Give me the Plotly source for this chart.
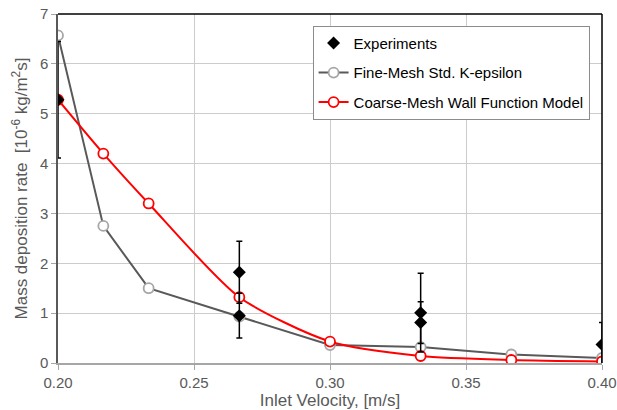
import plotly.graph_objects as go

# Inlet velocities [m/s] of the simulated cases
velocity = [0.2, 0.21667, 0.23333, 0.26667, 0.3, 0.33333, 0.36667, 0.4]

# Fine mesh, standard k-epsilon model [1e-6 kg/m2s]
fine_mesh = [6.57, 2.75, 1.50, 0.93, 0.36, 0.32, 0.17, 0.10]

# Coarse mesh, wall function model [1e-6 kg/m2s]
coarse_mesh = [5.28, 4.20, 3.20, 1.32, 0.43, 0.14, 0.06, 0.03]

# Measurements with their uncertainty
exp_velocity = [0.2, 0.26667, 0.26667, 0.33333, 0.33333, 0.4]
exp_rate = [5.28, 1.82, 0.95, 1.01, 0.81, 0.37]
exp_error = [1.17, 0.62, 0.45, 0.79, 0.42, 0.44]

x_ticks = [0.20, 0.25, 0.30, 0.35, 0.40]
y_ticks = [0, 1, 2, 3, 4, 5, 6, 7]

AXIS_GRAY = "#595959"
GRID_GRAY = "#cccccc"
FONT = "Liberation Sans, Arial, sans-serif"

fig = go.Figure()

fig.add_trace(go.Scatter(
    x=velocity, y=fine_mesh, mode="lines+markers",
    name="Fine-Mesh Std. K-epsilon", legendgroup="b", legendrank=2,
    line=dict(color="#595959", width=2),
    marker=dict(symbol="circle", size=10, color="white",
                line=dict(color="#a6a6a6", width=1.8)),
))

fig.add_trace(go.Scatter(
    x=velocity, y=coarse_mesh, mode="lines+markers",
    name="Coarse-Mesh Wall Function Model", legendgroup="c", legendrank=3,
    line=dict(color="#ff0000", width=2, shape="spline", smoothing=0.7),
    marker=dict(symbol="circle", size=10, color="white",
                line=dict(color="#ff0000", width=1.8)),
))

fig.add_trace(go.Scatter(
    x=exp_velocity, y=exp_rate, mode="markers",
    name="Experiments", legendgroup="a", legendrank=1,
    marker=dict(symbol="diamond", size=10, color="black"),
    error_y=dict(type="data", array=exp_error, visible=True,
                 color="black", thickness=1.5, width=3),
))

fig.update_layout(
    width=617, height=410,
    margin=dict(l=58, r=15, t=14, b=47),
    paper_bgcolor="white", plot_bgcolor="white",
    font=dict(family=FONT, color=AXIS_GRAY, size=15),
    showlegend=True,
    legend=dict(
        x=0.468, y=0.966, xanchor="left", yanchor="top",
        bgcolor="white", bordercolor="#8c8c8c", borderwidth=1,
        font=dict(family=FONT, color="black", size=15),
        traceorder="grouped", tracegroupgap=7,
        itemwidth=30,
    ),
    shapes=[
        dict(type="line", xref="paper", yref="paper", x0=0, x1=1, y0=1, y1=1,
             line=dict(color="black", width=1.5)),
        dict(type="line", xref="paper", yref="paper", x0=1, x1=1, y0=0, y1=1,
             line=dict(color="black", width=1.5)),
    ],
)

fig.update_xaxes(
    range=[0.2, 0.4], tickvals=x_ticks, ticktext=[f"{v:.2f}" for v in x_ticks],
    automargin=False,
    showgrid=True, gridcolor=GRID_GRAY, gridwidth=1.2,
    showline=True, linecolor="#a6a6a6", linewidth=1.5,
    ticks="outside", ticklen=5, tickcolor="#a6a6a6",
    zeroline=False,
    title=dict(text="Inlet Velocity, [m/s]", standoff=2,
               font=dict(size=17, color=AXIS_GRAY)),
)

fig.update_yaxes(
    range=[0, 7], tickvals=y_ticks,
    automargin=False,
    showgrid=True, gridcolor=GRID_GRAY, gridwidth=1.2,
    showline=True, linecolor=AXIS_GRAY, linewidth=1.5,
    ticks="outside", ticklen=5, tickcolor="#a6a6a6",
    zeroline=False,
    title=dict(text="Mass deposition rate  [10<sup>-6</sup> kg/m<sup>2</sup>s]",
               standoff=8, font=dict(size=17, color=AXIS_GRAY)),
)

fig.write_html("out.html")
